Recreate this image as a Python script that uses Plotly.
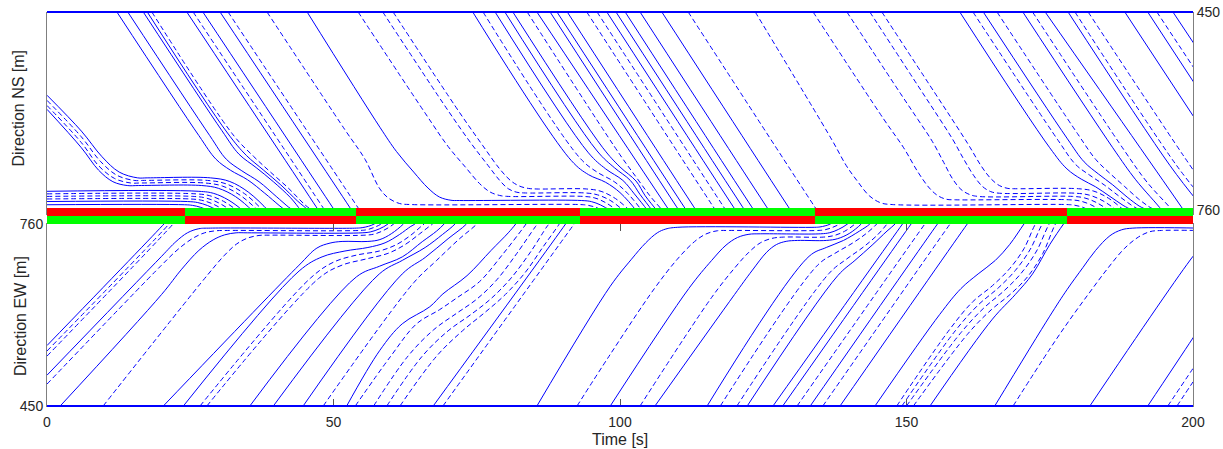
import plotly.graph_objects as go

# ---------------- data ----------------
T_RANGE = [0, 200]
X_TICKS = [0, 50, 100, 150, 200]
NS_TICKS = [450, 760]
EW_TICKS = [450, 760]

SIGNAL_SWITCH = [0, 24, 54, 93, 134, 178, 200]
NS_SIGNAL = ["red", "green", "red", "green", "red", "green"]
EW_SIGNAL = ["green", "red", "green", "red", "green", "red"]

# vehicle trajectories (time [s], position [m]) - direction NS
NS_SOLID = [
    [(0, 751), (24, 751), (25.4, 752), (26.8, 755), (28.2, 760), (30, 768)],
    [(0, 746), (24.5, 746), (26.3, 747.6), (28, 752.2), (29.8, 760), (31.5, 770)],
    [(0, 730), (26.5, 730), (29.1, 733.3), (31.6, 743.3), (34.2, 760), (35.5, 771)],
    [(0, 602), (6, 662), (9, 697), (11.5, 715), (14, 721), (16, 721), (27, 721), (29.9, 725.3), (32.9, 738.3), (35.8, 760), (37, 772)],
    [(0, 580), (6, 636), (9.6, 676), (12.6, 700), (15.8, 709), (17.6, 709), (28.5, 709), (31.9, 714.7), (35.2, 731.7), (38.6, 760), (40, 774)],
    [(12.2, 450), (26.5, 643), (29.5, 680), (32, 697), (35, 712), (38, 733), (40.5, 752), (41.6, 760), (43, 775)],
    [(14.1, 450), (28.4, 643), (31.3, 680), (34, 698), (37, 715), (40, 738), (42.2, 755), (43, 760), (44.3, 775)],
    [(16.8, 450), (30.5, 635), (33.5, 672), (36.5, 693), (39.5, 715), (42.5, 740), (44.3, 760), (45.5, 775)],
    [(17.5, 450), (31.5, 639), (34.8, 674), (37.8, 697), (40.8, 720), (43.7, 745), (45.6, 760), (46.8, 775)],
    [(24.4, 450), (47.4, 760), (48.5, 775)],
    [(27.2, 450), (50.2, 760), (51.3, 775)],
    [(30.2, 450), (53.2, 760), (54.3, 775)],
    [(45.4, 450), (58.1, 630), (61, 668), (64, 700), (66.5, 725), (68.5, 739), (70.5, 744), (72, 744.4), (93.3, 744.4), (95, 746.1), (96.6, 751.3), (98.3, 760), (99.5, 767.5)],
    [(74.3, 450), (91.5, 682), (94.5, 704), (97.5, 716), (100, 732), (102.8, 760), (104, 777)],
    [(78.2, 450), (94.5, 670), (97.5, 695), (100.5, 713), (102.5, 734), (104.8, 760), (106, 777)],
    [(79.9, 450), (96, 667), (99, 693), (101.8, 713), (103.5, 735), (105.6, 760), (106.8, 777)],
    [(81.3, 450), (97, 662), (100, 692), (102.8, 714), (104.4, 737), (106.4, 760), (107.6, 777)],
    [(85.5, 450), (108.6, 760), (109.8, 776)],
    [(87.8, 450), (110.3, 760), (111.5, 776)],
    [(89.0, 450), (111.6, 760), (112.8, 776)],
    [(90.8, 450), (113.3, 760), (114.5, 776)],
    [(97.7, 450), (120.2, 760), (121.4, 776)],
    [(99.3, 450), (121.8, 760), (123.0, 776)],
    [(100.9, 450), (123.4, 760), (124.6, 776)],
    [(103.5, 450), (126.0, 760), (127.2, 776)],
    [(107.3, 450), (129.8, 760), (131.0, 776)],
    [(159.3, 450), (175, 662), (178, 695), (180.5, 711), (183, 723), (185.5, 738), (187.8, 752), (189.3, 760), (190.5, 775)],
    [(163.4, 450), (178, 647), (181, 684), (183.5, 703), (186, 720), (188.5, 739), (190.6, 753), (192, 760), (193.2, 775)],
    [(170.3, 450), (186, 662), (190, 712), (194.6, 760), (195.8, 776)],
    [(174.2, 450), (198.4, 760), (199.6, 776)],
    [(178.2, 450), (196, 690), (201, 748)],
    [(188.1, 450), (205, 680)],
    [(192.1, 450), (206, 640)],
    [(196.5, 450), (208, 605)],
]

NS_DASHED = [
    [(0, 742), (25, 742), (27, 744), (29, 750), (31, 760), (32.5, 770)],
    [(0, 738), (25.5, 738), (27.7, 740.4), (29.9, 747.8), (32.1, 760), (33.5, 770)],
    [(0, 734), (26, 734), (28.4, 736.9), (30.8, 745.6), (33.2, 760), (34.5, 770)],
    [(0, 596), (6, 654), (9, 690), (11.8, 710), (14.6, 717), (16.5, 717), (27.5, 717), (30.6, 721.8), (33.7, 736.1), (36.8, 760), (38, 772)],
    [(0, 588), (6, 645), (9.3, 683), (12.2, 705), (15.2, 713), (17, 713), (28, 713), (31.2, 718.2), (34.5, 733.9), (37.7, 760), (39, 773)],
    [(18.3, 450), (32.5, 642), (36, 675), (39, 700), (42, 724), (45, 751), (46.2, 760), (47.5, 776)],
    [(25.5, 450), (48.5, 760), (49.6, 775)],
    [(31.6, 450), (54.6, 760), (55.7, 775)],
    [(38.4, 450), (52, 634), (55.5, 680), (58, 725), (59.5, 740), (61.5, 749), (63.5, 750.7), (93, 750.7), (94.3, 751.7), (95.7, 754.8), (97, 760), (98.2, 766)],
    [(54.3, 450), (66, 608), (70, 660), (73, 692), (75.5, 718), (77.3, 731), (79, 736.5), (80.5, 738), (93.6, 738), (95.6, 740.4), (97.5, 747.8), (99.5, 760), (100.7, 769)],
    [(58.6, 450), (70, 604), (74, 655), (77, 690), (79, 713), (80.5, 726), (82, 731.5), (83.5, 732.6), (93.9, 732.6), (96.1, 735.6), (98.4, 744.8), (100.6, 760), (101.8, 770)],
    [(60.4, 450), (72, 607), (76, 658), (79, 695), (81, 714), (82.5, 722), (84, 725.5), (85.5, 726.4), (94.2, 726.4), (96.7, 730.1), (99.2, 741.3), (101.7, 760), (102.9, 771)],
    [(76.1, 450), (93, 678), (96, 700), (99, 715), (101.3, 733), (103.8, 760), (105, 777)],
    [(83.8, 450), (100, 673), (103, 710), (105.3, 738), (107.4, 760), (108.6, 776)],
    [(94.2, 450), (116.7, 760), (117.9, 776)],
    [(96.0, 450), (118.5, 760), (119.7, 776)],
    [(111.9, 450), (134.4, 760), (135.6, 776)],
    [(123.6, 450), (137, 650), (139.5, 690), (141.5, 715), (143.5, 737), (145.5, 748), (147.5, 750.7), (178, 750.7), (179.3, 751.7), (180.7, 754.8), (182, 760), (183.2, 766)],
    [(133.7, 450), (146, 617), (149.5, 662), (152, 700), (154, 725), (155.5, 737), (157, 742.5), (158.5, 743.3), (178.5, 743.3), (180.3, 745.2), (182.1, 750.7), (183.9, 760), (185.1, 768)],
    [(139.6, 450), (149, 578), (152, 618), (154.5, 652), (156.5, 685), (158, 710), (159.5, 727), (161, 735), (162.5, 738), (179, 738), (181.1, 740.4), (183.2, 747.8), (185.3, 760), (186.5, 769)],
    [(143.6, 450), (152.5, 572), (155.5, 613), (158, 648), (160, 680), (161.7, 705), (163.2, 722), (164.7, 730.5), (166.2, 733), (179.5, 733), (181.9, 736), (184.3, 745), (186.7, 760), (187.9, 770)],
    [(145.7, 450), (155.5, 584), (158.5, 625), (161, 660), (163, 690), (164.7, 710), (166.2, 721), (167.7, 725.5), (169, 726), (180, 726), (182.7, 729.8), (185.3, 741.1), (188, 760), (189.2, 770)],
    [(161.6, 450), (176.5, 651), (179.5, 688), (182, 705), (184.5, 720), (187, 737), (189.3, 752), (190.7, 760), (191.9, 775)],
    [(165.8, 450), (180, 642), (183, 680), (185.5, 702), (188, 722), (190.5, 742), (192.3, 754), (193.4, 760), (194.6, 775)],
    [(172.0, 450), (188, 666), (192, 716), (196.4, 760), (197.6, 776)],
    [(179.4, 450), (197, 688), (202, 745)],
    [(181.7, 450), (198, 670), (203, 735)],
    [(193.7, 450), (207, 630)],
]

# vehicle trajectories (time [s], position [m]) - direction EW
EW_SOLID = [
    [(0, 553), (20.5, 761), (21.5, 772)],
    [(0, 502.5), (20, 705), (22.5, 730), (24.5, 745), (26.5, 752), (28.5, 753), (54, 753), (55, 753.8), (56.1, 756.1), (57.1, 760), (58.3, 769)],
    [(2.3, 450), (20, 640), (23.5, 683), (26.5, 715), (29, 733), (31, 741.5), (33, 745), (35, 745), (55, 745), (56.5, 746.7), (58, 751.7), (59.5, 760), (60.7, 772)],
    [(20.3, 450), (44, 690), (47.1, 719), (49.4, 727.5), (51.5, 730.3), (56, 730.3), (58.1, 733.5), (60.1, 743.5), (62.2, 760), (63.4, 773)],
    [(23.8, 450), (44, 680), (48, 704), (52, 714), (56, 720), (59, 728), (61.5, 742), (63.5, 756), (64.2, 760), (65.5, 775)],
    [(35.4, 450), (54, 670), (58, 688), (62, 704), (65.5, 730), (68, 748), (69.3, 760), (70.5, 775)],
    [(39.5, 450), (58, 675), (62, 698), (66, 720), (69, 742), (71.2, 760), (72.4, 775)],
    [(44.7, 450), (62, 675), (66, 703), (70, 735), (73.2, 760), (74.4, 776)],
    [(52.3, 450), (58.1, 545), (62, 590), (66.8, 619), (69.1, 641), (73.3, 672), (77.5, 715), (80.5, 745), (81.8, 760), (83, 776)],
    [(67.4, 450), (90.5, 760), (91.7, 777)],
    [(85.5, 450), (98.3, 654), (102, 700), (104.5, 728), (106.5, 745), (108, 751.5), (110, 754.4), (134, 754.4), (134.9, 755), (135.8, 756.9), (136.7, 760), (137.9, 770)],
    [(98.3, 450), (112, 650), (116, 698), (118.5, 724), (120.5, 737), (122.5, 742.5), (124.5, 743.3), (135, 743.3), (136.6, 745.2), (138.1, 750.7), (139.7, 760), (140.9, 772)],
    [(106.1, 450), (120, 640), (123, 680), (125.6, 712), (127.3, 725), (129, 730.5), (131, 732), (136, 732), (138, 735.1), (140.1, 744.4), (142.1, 760), (143.3, 773)],
    [(115.2, 450), (133, 705), (136, 720), (139, 732), (141.8, 748), (143.6, 760), (144.8, 774)],
    [(122.2, 450), (138, 672), (141, 698), (144, 724), (146.6, 748), (148, 760), (149.2, 775)],
    [(126.7, 450), (149.3, 760), (150.5, 776)],
    [(128.4, 450), (150.8, 760), (152.0, 776)],
    [(133.2, 450), (155.4, 760), (156.6, 776)],
    [(138.4, 450), (160.6, 760), (161.8, 776)],
    [(144.5, 450), (155.8, 606), (159.5, 650), (162.5, 675), (165.5, 698), (168, 725), (170.5, 760), (171.7, 776)],
    [(154.1, 450), (165, 598), (169, 640), (172, 675), (175, 725), (177.4, 760), (178.6, 776)],
    [(165.4, 450), (175, 603), (178, 648), (180.8, 686), (183, 715), (185.5, 740), (187.5, 750), (189.5, 753), (201, 753)],
    [(182.0, 450), (200, 705), (203, 740)],
    [(192.1, 450), (200, 566), (205, 640)],
]

EW_DASHED = [
    [(0, 543.7), (21.3, 760), (22.3, 772)],
    [(0, 535), (22, 760), (23, 772)],
    [(0, 487.3), (20, 690), (23, 718), (25.5, 736), (27.5, 745), (29.5, 748.5), (31.5, 749), (54.5, 749), (55.8, 750.2), (57, 753.9), (58.3, 760), (59.5, 771)],
    [(9.8, 450), (28, 673), (31, 707), (33.1, 726), (35, 736), (37, 740.5), (39, 741), (55.5, 741), (57.2, 743.1), (58.8, 749.4), (60.5, 760), (61.7, 772)],
    [(26.7, 450), (46, 668), (50, 695), (54, 707), (58, 714), (61, 725), (63.5, 741), (65.3, 756), (65.8, 760), (67, 776)],
    [(27.9, 450), (47.5, 668), (51.5, 690), (55.5, 700), (59.5, 710), (62.5, 725), (65, 743), (67, 758), (67.3, 760), (68.5, 776)],
    [(48.2, 450), (64, 660), (68, 698), (72, 735), (75, 760), (76.2, 776)],
    [(53.8, 450), (60, 535), (64.5, 590), (68.5, 614), (71.5, 634), (75.5, 662), (79.5, 708), (83, 752), (83.6, 760), (84.8, 776)],
    [(57.0, 450), (63, 535), (67.5, 580), (71.5, 608), (75, 632), (78.5, 665), (82, 710), (85.2, 755), (85.6, 760), (86.8, 776)],
    [(59.3, 450), (65.5, 535), (70, 578), (74, 606), (77.5, 633), (81, 668), (84.5, 714), (87.2, 755), (87.6, 760), (88.8, 776)],
    [(61.6, 450), (68, 535), (72.5, 578), (76.5, 610), (80, 640), (83.5, 678), (86.5, 720), (89.2, 757), (89.4, 760), (90.6, 776)],
    [(69.1, 450), (92, 760), (93.2, 776)],
    [(92.5, 450), (98.3, 538), (106, 650), (110, 700), (113, 730), (115, 743), (117, 748.5), (119, 749), (134.5, 749), (135.8, 750.2), (137, 753.9), (138.3, 760), (139.5, 771)],
    [(103.5, 450), (116, 635), (120, 685), (122.5, 712), (124.5, 728), (126.5, 735.5), (128.5, 737.7), (135.5, 737.7), (137.3, 740.2), (139.2, 747.6), (141, 760), (142.2, 772)],
    [(117.5, 450), (134.5, 690), (137.5, 710), (140.5, 727), (143, 744), (144.8, 760), (146, 775)],
    [(120.4, 450), (136.5, 676), (139.5, 700), (142.5, 721), (145, 742), (146.6, 760), (147.8, 775)],
    [(130.9, 450), (153.2, 760), (154.4, 776)],
    [(135.4, 450), (157.6, 760), (158.8, 776)],
    [(148.3, 450), (157.5, 580), (161.5, 627), (165, 655), (168, 684), (170.5, 718), (172.5, 760), (173.7, 776)],
    [(149.2, 450), (158.5, 578), (162.5, 622), (166, 651), (169, 681), (171.6, 717), (173.7, 760), (174.9, 776)],
    [(150.0, 450), (159.5, 575), (163.5, 617), (167, 646), (170, 676), (172.7, 714), (174.9, 760), (176.1, 776)],
    [(151.2, 450), (160.8, 574), (164.8, 614), (168.2, 641), (171.2, 671), (173.8, 710), (176, 760), (177.2, 776)],
    [(168.6, 450), (175, 547), (178.5, 597), (182, 644), (185, 683), (188, 718), (190.5, 738), (192.5, 747), (194.5, 749), (201, 749)],
    [(195.6, 450), (200, 514), (205, 587)],
    [(197.2, 450), (200, 491), (205, 564)],
]

# ---------------- styling ----------------
BLUE = "#0000FF"
SIG_COLOR = {"red": "#FF0000", "green": "#00FF00"}
AXIS_GRAY = "#7f7f7f"
TEXT = "#262626"
FONT = "Liberation Sans, Arial, Helvetica, sans-serif"

fig = go.Figure()


def add_paths(paths, yaxis, dash):
    xs, ys = [], []
    for path in paths:
        for t, p in path:
            xs.append(t)
            ys.append(p)
        xs.append(None)
        ys.append(None)
    fig.add_trace(go.Scatter(
        x=xs, y=ys, xaxis="x", yaxis=yaxis, mode="lines",
        line=dict(color=BLUE, width=1, dash=dash, shape="spline", smoothing=1.0),
        hoverinfo="skip", showlegend=False, connectgaps=False))


add_paths(EW_SOLID, "y", "solid")
add_paths(EW_DASHED, "y", "5px,3px")
add_paths(NS_SOLID, "y2", "solid")
add_paths(NS_DASHED, "y2", "5px,3px")

starts = SIGNAL_SWITCH[:-1]
durations = [b - a for a, b in zip(SIGNAL_SWITCH[:-1], SIGNAL_SWITCH[1:])]
for row, phases in ((1.5, NS_SIGNAL), (0.5, EW_SIGNAL)):
    fig.add_trace(go.Bar(
        orientation="h", y=[row] * len(durations), x=durations, base=starts,
        width=0.9, xaxis="x", yaxis="y3",
        marker=dict(color=[SIG_COLOR[c] for c in phases], line=dict(width=0)),
        hoverinfo="skip", showlegend=False))

# thick road-boundary lines at 450 m
fig.add_shape(type="line", xref="x", yref="paper", x0=T_RANGE[0], x1=T_RANGE[1], y0=1, y1=1,
              line=dict(color=BLUE, width=2.2))
fig.add_shape(type="line", xref="x", yref="paper", x0=T_RANGE[0], x1=T_RANGE[1], y0=0, y1=0,
              line=dict(color=BLUE, width=2.2))

fig.update_layout(
    template="none",
    width=1223, height=449,
    margin=dict(l=47, r=30, t=12, b=43, pad=0, autoexpand=False),
    paper_bgcolor="white", plot_bgcolor="rgba(0,0,0,0)",
    barmode="overlay", bargap=0,
    font=dict(family=FONT, size=14, color=TEXT),
    xaxis=dict(domain=[0, 1], range=T_RANGE, anchor="y", tickvals=X_TICKS,
               ticks="inside", ticklen=7, tickcolor="#555555", tickwidth=1,
               showline=True, linecolor=AXIS_GRAY, mirror="ticks",
               showgrid=False, zeroline=False, ticklabelstandoff=3, automargin=False,
               ticklabeloverflow="allow", tickfont=dict(size=14, color=TEXT)),
    yaxis=dict(domain=[0, 0.4619], range=[450, 760], anchor="x", tickvals=EW_TICKS,
               ticks="", showline=True, linecolor=AXIS_GRAY, mirror=True, automargin=False,
               showgrid=False, zeroline=False, ticklabeloverflow="allow",
               tickfont=dict(size=14, color=TEXT)),
    yaxis2=dict(domain=[0.4848, 1], range=[767, 450], anchor="x", side="right",
                tickvals=NS_TICKS, ticks="", showline=True, linecolor=AXIS_GRAY,
                mirror=True, showgrid=False, zeroline=False, automargin=False,
                ticklabeloverflow="allow", tickfont=dict(size=14, color=TEXT)),
    yaxis3=dict(domain=[0.4619, 0.5025], range=[0, 2], anchor="x", visible=False,
                fixedrange=True, automargin=False),
    annotations=[
        dict(text="Time [s]", xref="paper", yref="paper", x=0.5, y=-0.0838,
             xanchor="center", yanchor="middle", showarrow=False,
             font=dict(size=16, color=TEXT, family=FONT)),
        dict(text="Direction NS [m]", xref="paper", yref="paper", x=-0.0245, y=0.755,
             xanchor="center", yanchor="middle", textangle=-90, showarrow=False,
             font=dict(size=16, color=TEXT, family=FONT)),
        dict(text="Direction EW [m]", xref="paper", yref="paper", x=-0.0236, y=0.228,
             xanchor="center", yanchor="middle", textangle=-90, showarrow=False,
             font=dict(size=16, color=TEXT, family=FONT)),
    ],
)

# remove the default page margin so the 1223x449 figure fills the window exactly
PAGE_FIX = ("document.documentElement.style.overflow='hidden';"
            "document.body.style.overflow='hidden';"
            "document.body.style.margin='0px';")

fig.write_html("out.html", config={"displayModeBar": False}, post_script=PAGE_FIX)
